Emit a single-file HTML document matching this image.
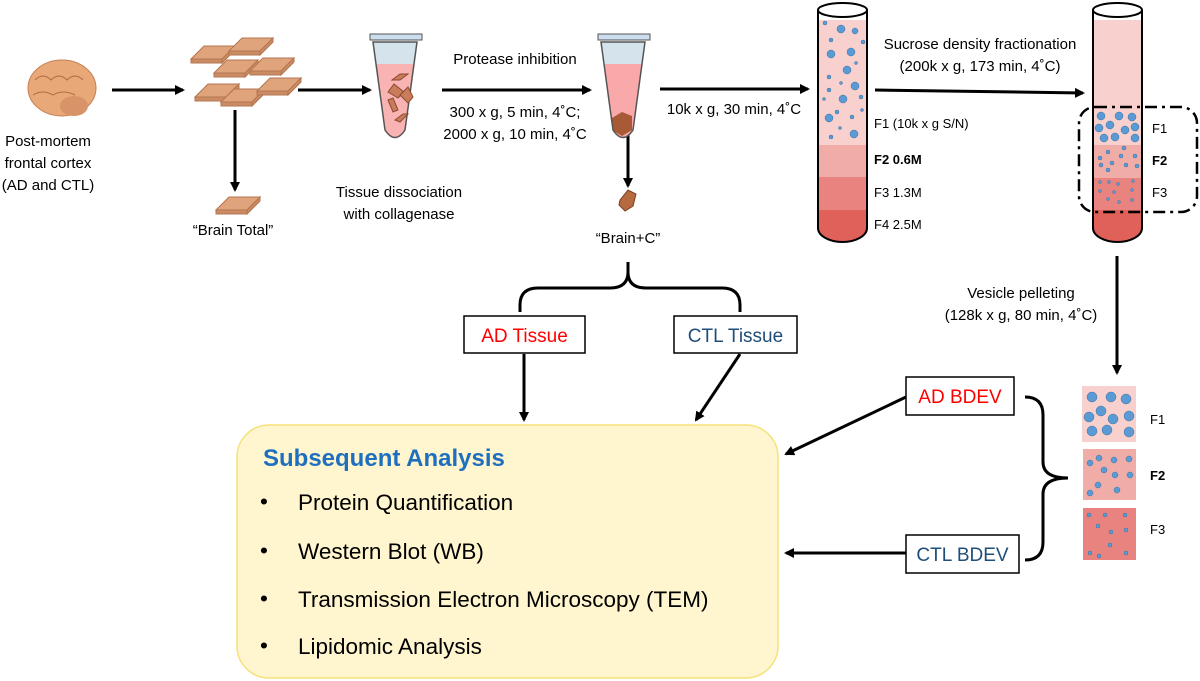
<!DOCTYPE html>
<html><head><meta charset="utf-8"><style>
html,body{margin:0;padding:0;background:#fff;}
svg{display:block;font-family:"Liberation Sans",sans-serif;}
</style></head><body>
<svg width="1200" height="681" viewBox="0 0 1200 681" xmlns="http://www.w3.org/2000/svg">
<defs>
<marker id="ah" markerWidth="10" markerHeight="10" refX="8" refY="5" orient="auto" markerUnits="userSpaceOnUse"><path d="M0,0 L10,5 L0,10 z" fill="#000"/></marker>
<clipPath id="t3"><path d="M818,10 V228 A24.5,14 0 0 0 867,228 V10 z"/></clipPath>
<clipPath id="t4"><path d="M1093,10 V228 A24.5,14 0 0 0 1142,228 V10 z"/></clipPath>
<clipPath id="e1"><path d="M373,42 H417 L405,130 Q395,145 385,130 z"/></clipPath>
<clipPath id="e2"><path d="M601,42 H645 L633,130 Q623,145 613,130 z"/></clipPath>
<g id="sl"><path d="M0,13 l13,-13 h31 l-13,13z" fill="#e0a47c" stroke="#b57550"/><path d="M0,13 h31 v4 h-31z M31,13 l13,-13 v4 l-13,13z" fill="#c98c64" stroke="#b57550"/></g>
</defs>
<g stroke="#000" stroke-width="3" fill="none">
<line x1="112" y1="90" x2="183" y2="90" marker-end="url(#ah)"/>
<line x1="298" y1="90" x2="370" y2="90" marker-end="url(#ah)"/>
<line x1="442" y1="90" x2="590" y2="90" marker-end="url(#ah)"/>
<line x1="660" y1="89" x2="808" y2="89" marker-end="url(#ah)"/>
<line x1="875" y1="90" x2="1083" y2="93" marker-end="url(#ah)"/>
<line x1="235" y1="110" x2="235" y2="190" marker-end="url(#ah)"/>
<line x1="628" y1="128" x2="628" y2="186" marker-end="url(#ah)"/>
<line x1="1117" y1="256" x2="1117" y2="373" marker-end="url(#ah)"/>
<line x1="524" y1="354" x2="524" y2="420" marker-end="url(#ah)"/>
<line x1="740" y1="354" x2="696" y2="420" marker-end="url(#ah)"/>
<line x1="906" y1="397" x2="786" y2="454" marker-end="url(#ah)"/>
<line x1="906" y1="553" x2="786" y2="553" marker-end="url(#ah)"/>
<path d="M628,262 V272 Q628,288 610,288 H538 Q520,288 520,305 V312 M628,272 Q628,288 646,288 H722 Q740,288 740,305 V312"/>
<path d="M1025,397 Q1043,397 1043,415 V462 Q1043,478 1068,478 M1025,560 Q1043,560 1043,542 V494 Q1043,478 1068,478"/>
</g>
<!-- brain -->
<ellipse cx="62" cy="88" rx="34" ry="28" fill="#e8a878" stroke="#c58055"/>
<ellipse cx="74" cy="106" rx="14" ry="10" fill="#d89468"/>
<path d="M35,80 q8,-8 16,0 q8,-8 16,0 q8,-8 16,0 M33,95 q10,-6 20,0 q10,-6 22,0" stroke="#b06b42" fill="none"/>
<text x="48" y="146" font-size="15" text-anchor="middle">Post-mortem</text>
<text x="48" y="168" font-size="15" text-anchor="middle">frontal cortex</text>
<text x="48" y="190" font-size="15" text-anchor="middle">(AD and CTL)</text>
<!-- slices -->
<use href="#sl" x="191" y="46"/><use href="#sl" x="229" y="38"/>
<use href="#sl" x="214" y="60"/><use href="#sl" x="250" y="58"/>
<use href="#sl" x="195" y="84"/><use href="#sl" x="221" y="89"/>
<use href="#sl" x="257" y="78"/>
<use href="#sl" x="216" y="197"/>
<text x="233" y="235" font-size="15" text-anchor="middle">“Brain Total”</text>
<!-- eppendorf 1 -->
<rect x="370" y="34" width="52" height="6" fill="#cde" stroke="#555"/>
<g clip-path="url(#e1)"><rect x="370" y="40" width="52" height="24" fill="#d5e3ec"/><rect x="370" y="64" width="52" height="90" fill="#f9b3b3"/></g>
<path d="M373,42 H417 L405,130 Q395,145 385,130 z" fill="none" stroke="#555" stroke-width="1.5"/>
<g fill="#c97b5a" stroke="#8a4a30"><path d="M392,80 l8,-6 h8 l-8,6z"/><path d="M388,92 l6,-8 l10,8 l-6,6z"/><path d="M400,95 l8,-8 l5,10 l-5,6z"/><path d="M388,100 l5,12 l5,-2 l-5,-12z"/><path d="M395,120 l8,-6 h5 l-8,8z"/></g>
<text x="399" y="197" font-size="15" text-anchor="middle">Tissue dissociation</text>
<text x="399" y="219" font-size="15" text-anchor="middle">with collagenase</text>
<text x="515" y="64" font-size="15" text-anchor="middle">Protease inhibition</text>
<text x="515" y="117" font-size="15" text-anchor="middle">300 x g, 5 min, 4˚C;</text>
<text x="515" y="139" font-size="15" text-anchor="middle">2000 x g, 10 min, 4˚C</text>
<!-- eppendorf 2 -->
<rect x="598" y="34" width="52" height="6" fill="#cde" stroke="#555"/>
<g clip-path="url(#e2)"><rect x="598" y="40" width="52" height="24" fill="#d5e3ec"/><rect x="598" y="64" width="52" height="90" fill="#f9a9a9"/><path d="M612,118 l10,-6 l10,4 v14 l-10,6 l-10,-6z" fill="#a85a36"/></g>
<path d="M601,42 H645 L633,130 Q623,145 613,130 z" fill="none" stroke="#555" stroke-width="1.5"/>
<path d="M620,200 l8,-10 l8,4 l-3,12 l-8,5 l-6,-6z" fill="#b56a40" stroke="#7a3e20"/>
<text x="628" y="243" font-size="15" text-anchor="middle">“Brain+C”</text>
<text x="734" y="114" font-size="15" text-anchor="middle">10k x g, 30 min, 4˚C</text>
<!-- tube 3 -->
<g clip-path="url(#t3)">
<rect x="818" y="20" width="49" height="125" fill="#f8d0ce"/>
<rect x="818" y="145" width="49" height="32" fill="#f0ada8"/>
<rect x="818" y="177" width="49" height="33" fill="#e8837f"/>
<rect x="818" y="210" width="49" height="40" fill="#e0605a"/>
<g fill="#5b9bd5" stroke="#41719c" stroke-width=".5">
<circle cx="841" cy="29" r="4"/><circle cx="855" cy="31" r="3"/><circle cx="825" cy="23" r="2"/><circle cx="831" cy="40" r="2"/><circle cx="863" cy="42" r="2"/><circle cx="831" cy="54" r="4"/><circle cx="851" cy="52" r="4"/><circle cx="847" cy="70" r="4"/><circle cx="856" cy="63" r="1.5"/><circle cx="829" cy="77" r="2"/><circle cx="841" cy="83" r="1.5"/><circle cx="855" cy="86" r="4"/><circle cx="829" cy="90" r="2"/><circle cx="861" cy="97" r="2"/><circle cx="824" cy="99" r="1.5"/><circle cx="843" cy="99" r="4"/><circle cx="837" cy="112" r="2"/><circle cx="862" cy="110" r="1.5"/><circle cx="829" cy="118" r="4"/><circle cx="852" cy="117" r="2"/><circle cx="840" cy="128" r="1.5"/><circle cx="854" cy="134" r="4"/><circle cx="831" cy="137" r="2"/>
</g></g>
<ellipse cx="842.5" cy="10" rx="24.5" ry="7" fill="#fff" stroke="#000" stroke-width="2"/>
<path d="M818,10 V228 A24.5,14 0 0 0 867,228 V10" fill="none" stroke="#000" stroke-width="2"/>
<g font-size="13"><text x="874" y="128">F1 (10k x g S/N)</text><text x="874" y="164" font-weight="bold">F2 0.6M</text><text x="874" y="197">F3 1.3M</text><text x="874" y="229">F4 2.5M</text></g>
<text x="980" y="49" font-size="15" text-anchor="middle">Sucrose density fractionation</text>
<text x="980" y="71" font-size="15" text-anchor="middle">(200k x g, 173 min, 4˚C)</text>
<!-- tube 4 -->
<g clip-path="url(#t4)">
<rect x="1093" y="20" width="49" height="88" fill="#f8d0ce"/>
<rect x="1093" y="108" width="49" height="37" fill="#f8d0ce"/>
<rect x="1093" y="145" width="49" height="33" fill="#f0ada8"/>
<rect x="1093" y="178" width="49" height="32" fill="#e8837f"/>
<rect x="1093" y="210" width="49" height="40" fill="#e0605a"/>
<g fill="#5b9bd5" stroke="#41719c" stroke-width=".5">
<circle cx="1101" cy="116" r="4"/><circle cx="1119" cy="116" r="4"/><circle cx="1132" cy="117" r="4"/><circle cx="1099" cy="128" r="4"/><circle cx="1110" cy="125" r="4"/><circle cx="1125" cy="130" r="4"/><circle cx="1135" cy="127" r="4"/><circle cx="1104" cy="138" r="4"/><circle cx="1115" cy="137" r="4"/><circle cx="1135" cy="138" r="4"/>
<circle cx="1124" cy="148" r="2"/><circle cx="1108" cy="152" r="2"/><circle cx="1121" cy="156" r="2"/><circle cx="1135" cy="156" r="2"/><circle cx="1100" cy="158" r="2"/><circle cx="1112" cy="163" r="2"/><circle cx="1126" cy="165" r="2"/><circle cx="1137" cy="166" r="2"/><circle cx="1101" cy="165" r="2"/><circle cx="1108" cy="170" r="2"/>
<circle cx="1100" cy="182" r="1.5"/><circle cx="1109" cy="182" r="1.5"/><circle cx="1118" cy="184" r="1.5"/><circle cx="1133" cy="181" r="1.5"/><circle cx="1100" cy="191" r="1.5"/><circle cx="1114" cy="192" r="1.5"/><circle cx="1132" cy="190" r="1.5"/><circle cx="1108" cy="199" r="1.5"/><circle cx="1119" cy="202" r="1.5"/><circle cx="1132" cy="200" r="1.5"/>
</g></g>
<ellipse cx="1117.5" cy="10" rx="24.5" ry="7" fill="#fff" stroke="#000" stroke-width="2"/>
<path d="M1093,10 V228 A24.5,14 0 0 0 1142,228 V10" fill="none" stroke="#000" stroke-width="2"/>
<rect x="1079" y="107" width="118" height="105" rx="16" fill="none" stroke="#000" stroke-width="2.5" stroke-dasharray="12,5,3,5"/>
<g font-size="13"><text x="1152" y="133">F1</text><text x="1152" y="165" font-weight="bold">F2</text><text x="1152" y="197">F3</text></g>
<text x="1021" y="298" font-size="15" text-anchor="middle">Vesicle pelleting</text>
<text x="1021" y="320" font-size="15" text-anchor="middle">(128k x g, 80 min, 4˚C)</text>
<!-- squares -->
<rect x="1082" y="386" width="54" height="56" fill="#f8d0ce"/>
<rect x="1083" y="449" width="53" height="51" fill="#f0ada8"/>
<rect x="1083" y="508" width="53" height="52" fill="#e8837f"/>
<g fill="#5b9bd5" stroke="#41719c" stroke-width=".5">
<circle cx="1092" cy="397" r="5"/><circle cx="1111" cy="397" r="5"/><circle cx="1126" cy="399" r="5"/><circle cx="1089" cy="417" r="5"/><circle cx="1101" cy="411" r="5"/><circle cx="1113" cy="419" r="5"/><circle cx="1129" cy="416" r="5"/><circle cx="1092" cy="431" r="5"/><circle cx="1107" cy="430" r="5"/><circle cx="1129" cy="432" r="5"/>
<circle cx="1090" cy="463" r="3"/><circle cx="1099" cy="458" r="3"/><circle cx="1114" cy="460" r="3"/><circle cx="1129" cy="459" r="3"/><circle cx="1104" cy="470" r="3"/><circle cx="1115" cy="475" r="3"/><circle cx="1130" cy="475" r="3"/><circle cx="1098" cy="485" r="3"/><circle cx="1090" cy="493" r="3"/><circle cx="1117" cy="490" r="3"/>
<circle cx="1089" cy="515" r="2"/><circle cx="1105" cy="515" r="2"/><circle cx="1125" cy="515" r="2"/><circle cx="1098" cy="526" r="2"/><circle cx="1111" cy="532" r="2"/><circle cx="1126" cy="530" r="2"/><circle cx="1110" cy="545" r="2"/><circle cx="1090" cy="553" r="2"/><circle cx="1099" cy="556" r="2"/><circle cx="1126" cy="553" r="2"/>
</g>
<g font-size="13"><text x="1150" y="424">F1</text><text x="1150" y="480" font-weight="bold">F2</text><text x="1150" y="534">F3</text></g>
<!-- boxes -->
<rect x="464" y="316" width="121" height="37" fill="#fff" stroke="#000" stroke-width="1.5"/>
<text x="524.5" y="342" font-size="19" text-anchor="middle" fill="#ff0000">AD Tissue</text>
<rect x="674" y="316" width="123" height="37" fill="#fff" stroke="#000" stroke-width="1.5"/>
<text x="735.5" y="342" font-size="19" text-anchor="middle" fill="#1f4e79">CTL Tissue</text>
<rect x="906" y="377" width="108" height="38" fill="#fff" stroke="#000" stroke-width="1.5"/>
<text x="960" y="403" font-size="19" text-anchor="middle" fill="#ff0000">AD BDEV</text>
<rect x="906" y="535" width="113" height="38" fill="#fff" stroke="#000" stroke-width="1.5"/>
<text x="962.5" y="561" font-size="19" text-anchor="middle" fill="#1f4e79">CTL BDEV</text>
<!-- analysis box -->
<rect x="237" y="425" width="541" height="253" rx="32" fill="#fff5cf" stroke="#f5e27a" stroke-width="1.5"/>
<text x="263" y="466" font-size="24" font-weight="bold" fill="#1f6fbf">Subsequent Analysis</text>
<g font-size="22.5"><text x="260" y="509">•</text><text x="298" y="510">Protein Quantification</text>
<text x="260" y="558">•</text><text x="298" y="559">Western Blot (WB)</text>
<text x="260" y="606">•</text><text x="298" y="607">Transmission Electron Microscopy (TEM)</text>
<text x="260" y="653">•</text><text x="298" y="654">Lipidomic Analysis</text></g>
</svg>
</body></html>
